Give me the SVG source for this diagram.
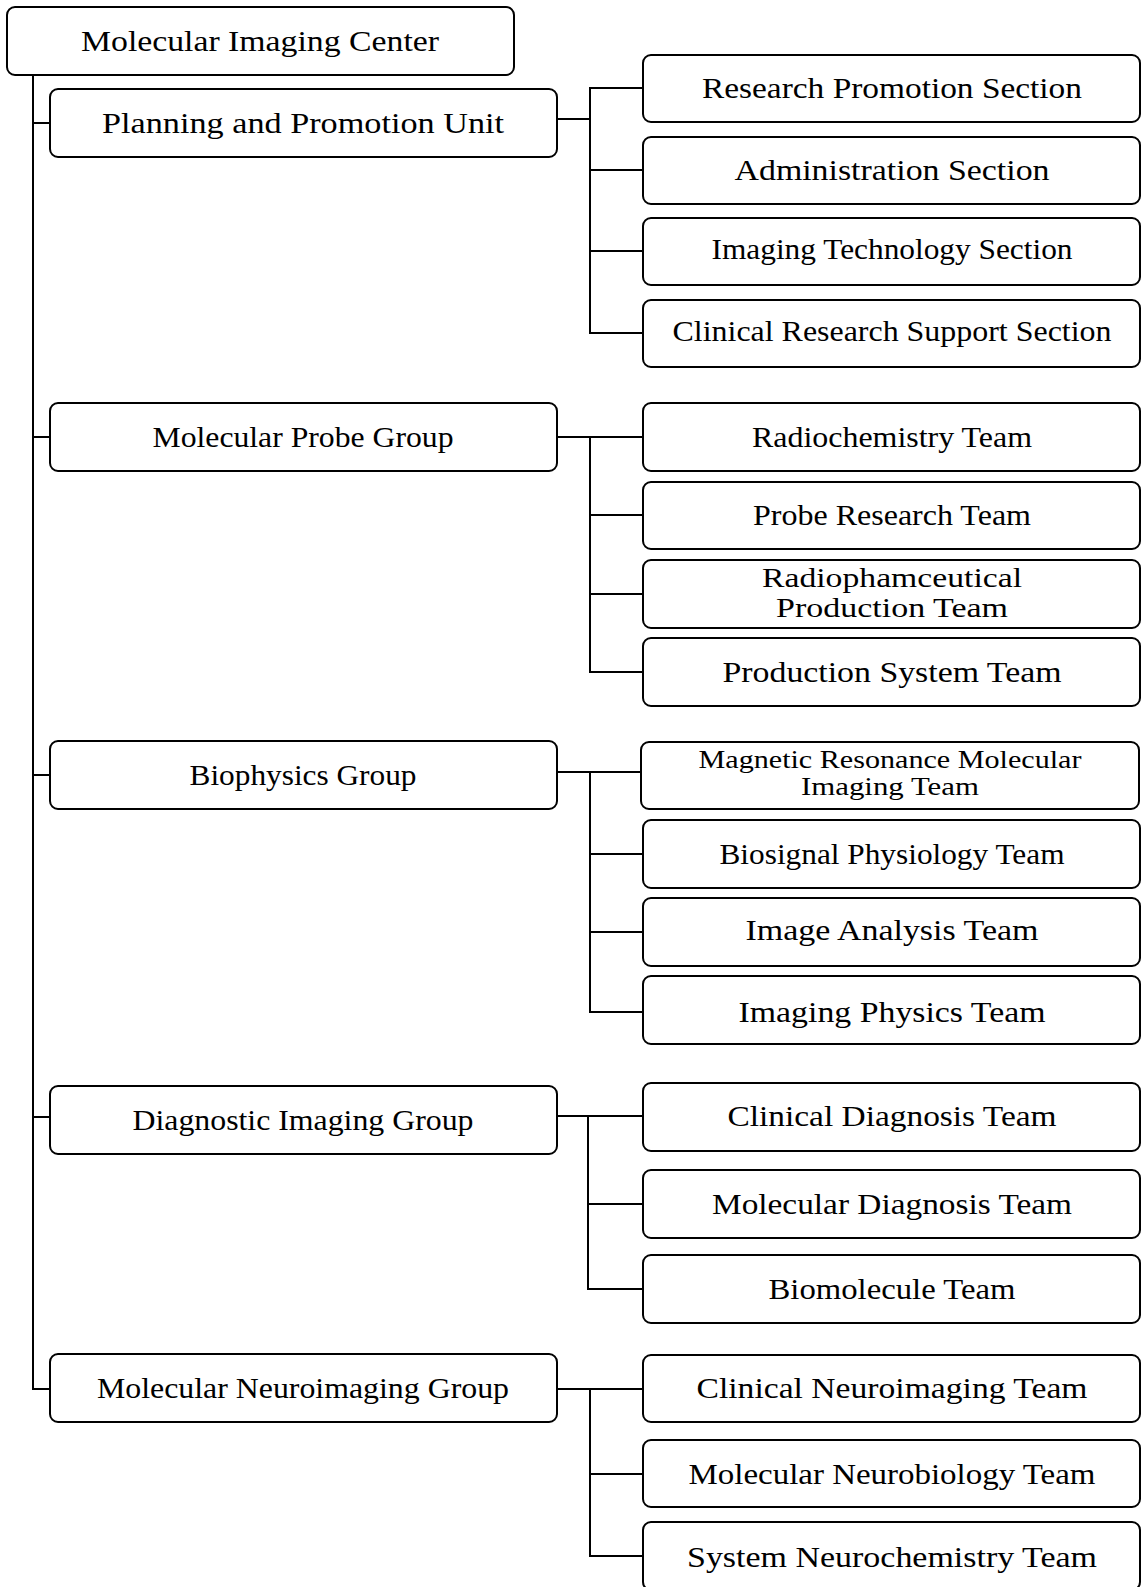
<svg xmlns="http://www.w3.org/2000/svg" width="1142" height="1587" viewBox="0 0 1142 1587">
<style>
rect.box{fill:#fff;stroke:#000;stroke-width:2}
text{font-family:"Liberation Serif","Times New Roman",serif;font-size:30px;fill:#000;text-anchor:middle}
text.sm{font-size:25px}
text.md{font-size:27px}
.conn path{fill:none;stroke:#000;stroke-width:2}
</style>
<rect width="1142" height="1587" fill="#fff"/>
<g class="conn" id="connectors">
<path d="M33 75V1389H50"/>
<path d="M33 123H50M33 437H50M33 775H50M33 1117H50"/>
<path d="M557 119H590M643 88H590V333H643M590 170H643M590 251H643"/>
<path d="M557 437H643M590 437V672H643M590 515H643M590 594H643"/>
<path d="M557 772H641M590 772V1012H643M590 854H643M590 932H643"/>
<path d="M557 1116H643M588 1116V1289H643M588 1204H643"/>
<path d="M557 1389H643M590 1389V1556H643M590 1474H643"/>
</g>
<g id="root"><rect class="box" x="7" y="7" width="507" height="68" rx="8"/><text x="260" y="51" textLength="358" lengthAdjust="spacingAndGlyphs">Molecular Imaging Center</text></g>
<g id="planning"><rect class="box" x="50" y="89" width="507" height="68" rx="8"/><text x="303" y="133" textLength="402" lengthAdjust="spacingAndGlyphs">Planning and Promotion Unit</text></g>
<g id="probe"><rect class="box" x="50" y="403" width="507" height="68" rx="8"/><text x="303" y="447" textLength="301" lengthAdjust="spacingAndGlyphs">Molecular Probe Group</text></g>
<g id="biophysics"><rect class="box" x="50" y="741" width="507" height="68" rx="8"/><text x="303" y="785" textLength="227" lengthAdjust="spacingAndGlyphs">Biophysics Group</text></g>
<g id="diagnostic"><rect class="box" x="50" y="1086" width="507" height="68" rx="8"/><text x="303" y="1130" textLength="341" lengthAdjust="spacingAndGlyphs">Diagnostic Imaging Group</text></g>
<g id="neuro"><rect class="box" x="50" y="1354" width="507" height="68" rx="8"/><text x="303" y="1398" textLength="412" lengthAdjust="spacingAndGlyphs">Molecular Neuroimaging Group</text></g>

<g id="research-promotion"><rect class="box" x="643" y="55" width="497" height="67" rx="8"/><text x="892" y="98" textLength="380" lengthAdjust="spacingAndGlyphs">Research Promotion Section</text></g>
<g id="administration"><rect class="box" x="643" y="137" width="497" height="67" rx="8"/><text x="892" y="180" textLength="315" lengthAdjust="spacingAndGlyphs">Administration Section</text></g>
<g id="imaging-technology"><rect class="box" x="643" y="218" width="497" height="67" rx="8"/><text x="892" y="259" textLength="361" lengthAdjust="spacingAndGlyphs">Imaging Technology Section</text></g>
<g id="clinical-research-support"><rect class="box" x="643" y="300" width="497" height="67" rx="8"/><text x="892" y="341" textLength="439" lengthAdjust="spacingAndGlyphs">Clinical Research Support Section</text></g>

<g id="radiochemistry"><rect class="box" x="643" y="403" width="497" height="68" rx="8"/><text x="892" y="447" textLength="280" lengthAdjust="spacingAndGlyphs">Radiochemistry Team</text></g>
<g id="probe-research"><rect class="box" x="643" y="482" width="497" height="67" rx="8"/><text x="892" y="525" textLength="278" lengthAdjust="spacingAndGlyphs">Probe Research Team</text></g>
<g id="radiopharm"><rect class="box" x="643" y="560" width="497" height="68" rx="8"/><text class="md" x="892" y="587" textLength="260" lengthAdjust="spacingAndGlyphs">Radiophamceutical</text><text class="md" x="892" y="617" textLength="232" lengthAdjust="spacingAndGlyphs">Production Team</text></g>
<g id="production-system"><rect class="box" x="643" y="638" width="497" height="68" rx="8"/><text x="892" y="682" textLength="339" lengthAdjust="spacingAndGlyphs">Production System Team</text></g>

<g id="magnetic-resonance"><rect class="box" x="641" y="742" width="498" height="67" rx="8"/><text class="sm" x="890" y="768" textLength="383" lengthAdjust="spacingAndGlyphs">Magnetic Resonance Molecular</text><text class="sm" x="890" y="795" textLength="178" lengthAdjust="spacingAndGlyphs">Imaging Team</text></g>
<g id="biosignal"><rect class="box" x="643" y="820" width="497" height="68" rx="8"/><text x="892" y="864" textLength="345" lengthAdjust="spacingAndGlyphs">Biosignal Physiology Team</text></g>
<g id="image-analysis"><rect class="box" x="643" y="898" width="497" height="68" rx="8"/><text x="892" y="940" textLength="293" lengthAdjust="spacingAndGlyphs">Image Analysis Team</text></g>
<g id="imaging-physics"><rect class="box" x="643" y="976" width="497" height="68" rx="8"/><text x="892" y="1022" textLength="307" lengthAdjust="spacingAndGlyphs">Imaging Physics Team</text></g>

<g id="clinical-diagnosis"><rect class="box" x="643" y="1083" width="497" height="68" rx="8"/><text x="892" y="1126" textLength="329" lengthAdjust="spacingAndGlyphs">Clinical Diagnosis Team</text></g>
<g id="molecular-diagnosis"><rect class="box" x="643" y="1170" width="497" height="68" rx="8"/><text x="892" y="1214" textLength="360" lengthAdjust="spacingAndGlyphs">Molecular Diagnosis Team</text></g>
<g id="biomolecule"><rect class="box" x="643" y="1255" width="497" height="68" rx="8"/><text x="892" y="1299" textLength="247" lengthAdjust="spacingAndGlyphs">Biomolecule Team</text></g>

<g id="clinical-neuroimaging"><rect class="box" x="643" y="1355" width="497" height="67" rx="8"/><text x="892" y="1398" textLength="391" lengthAdjust="spacingAndGlyphs">Clinical Neuroimaging Team</text></g>
<g id="molecular-neurobiology"><rect class="box" x="643" y="1440" width="497" height="67" rx="8"/><text x="892" y="1484" textLength="407" lengthAdjust="spacingAndGlyphs">Molecular Neurobiology Team</text></g>
<g id="system-neurochemistry"><rect class="box" x="643" y="1522" width="497" height="68" rx="8"/><text x="892" y="1567" textLength="410" lengthAdjust="spacingAndGlyphs">System Neurochemistry Team</text></g>
</svg>
